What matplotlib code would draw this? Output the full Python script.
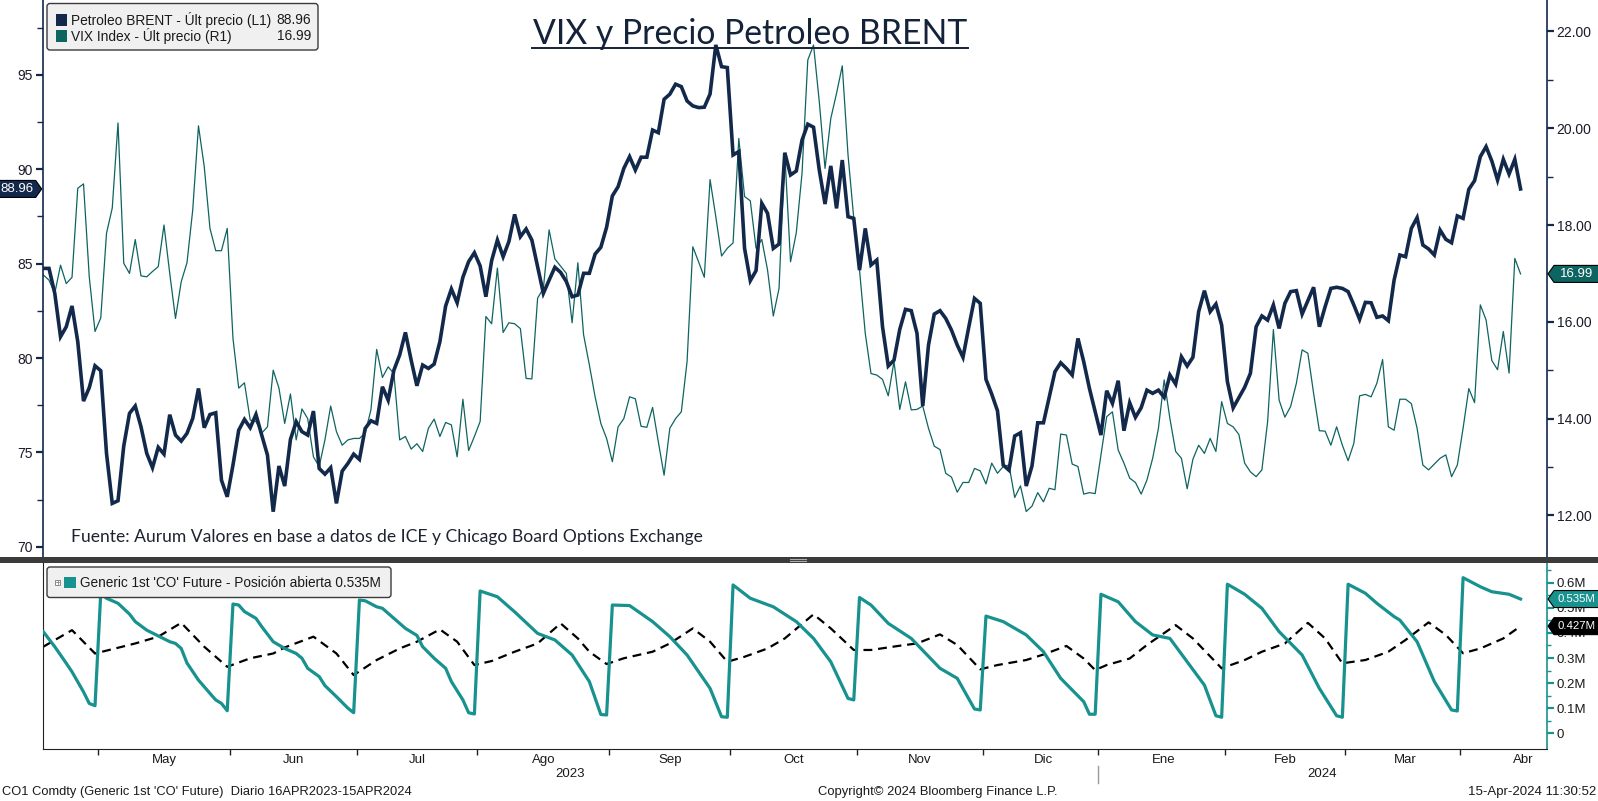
import numpy as np
import pandas as pd
import matplotlib
matplotlib.use("Agg")
import matplotlib.pyplot as plt
from matplotlib.patches import Polygon, FancyBboxPatch, Rectangle
from matplotlib.transforms import IdentityTransform
from matplotlib.lines import Line2D
from matplotlib.ticker import FixedLocator, FuncFormatter

# ---------------- data ----------------
inicio, fin = "2023-04-17", "2024-04-15"
feriados = ["2023-12-25", "2024-01-01", "2024-03-29"]

brent = [
    84.75, 84.75, 83.43, 81.13, 81.66, 82.76, 80.87, 77.72, 78.43, 79.59,
    79.33, 74.95, 72.30, 72.44, 75.34, 77.07, 77.46, 76.36, 74.95, 74.19,
    75.27, 74.91, 77.00, 75.92, 75.60, 76.01, 76.80, 78.39, 76.31, 77.01,
    77.10, 73.53, 72.65, 74.33, 76.18, 76.75, 76.31, 77.01, 75.92, 74.86,
    71.86, 74.28, 73.22, 75.69, 76.63, 76.10, 75.92, 77.19, 74.15, 73.85,
    74.19, 72.30, 74.01, 74.42, 74.91, 74.63, 76.27, 76.68, 76.54, 78.48,
    77.77, 79.36, 80.16, 81.36, 79.89, 78.53, 79.63, 79.45, 79.68, 80.87,
    82.76, 83.66, 82.93, 84.28, 85.11, 85.58, 84.88, 83.25, 85.16, 86.25,
    85.37, 86.17, 87.61, 86.43, 86.84, 86.25, 84.84, 83.43, 84.13, 84.81,
    84.54, 84.05, 83.25, 83.34, 84.49, 84.49, 85.51, 85.87, 86.93, 88.59,
    89.08, 90.05, 90.67, 89.96, 90.64, 90.64, 92.08, 91.94, 93.71, 93.98,
    94.51, 94.38, 93.62, 93.36, 93.27, 93.29, 93.99, 96.59, 95.44, 95.39,
    90.76, 90.94, 85.81, 84.10, 84.63, 88.20, 87.67, 85.81, 86.04, 90.88,
    89.70, 89.91, 91.55, 92.39, 92.23, 89.96, 88.16, 90.18, 87.93, 90.49,
    87.49, 87.40, 84.66, 86.87, 84.93, 85.19, 81.66, 79.58, 79.89, 81.52,
    82.58, 82.51, 81.31, 77.46, 80.69, 82.33, 82.51, 82.10, 81.48, 80.69,
    80.04, 81.63, 83.16, 82.90, 78.87, 78.09, 77.21, 74.33, 74.06, 75.87,
    76.04, 73.22, 74.28, 76.57, 76.57, 77.92, 79.28, 79.75, 79.45, 79.10,
    81.04, 79.81, 78.39, 77.16, 75.92, 78.27, 77.60, 78.80, 76.15, 77.63,
    76.86, 77.37, 78.30, 78.13, 78.30, 77.92, 79.10, 78.62, 80.07, 79.58,
    80.04, 82.46, 83.57, 82.46, 82.86, 81.75, 78.75, 77.36, 77.90, 78.45,
    79.19, 81.66, 82.23, 82.01, 82.81, 81.57, 82.90, 83.52, 83.57, 82.33,
    83.04, 83.75, 81.66, 82.72, 83.69, 83.75, 83.69, 83.52, 82.81, 82.05,
    82.95, 82.93, 82.16, 82.23, 81.98, 84.13, 85.46, 85.37, 86.87, 87.44,
    85.99, 85.78, 85.46, 86.78, 86.29, 86.11, 87.53, 87.40, 88.94, 89.40,
    90.67, 91.20, 90.44, 89.43, 90.53, 89.75, 90.53, 88.96]

vix = [
    16.97, 16.86, 16.59, 17.17, 16.79, 16.92, 18.76, 18.85, 16.93, 15.80,
    16.08, 17.83, 18.35, 20.11, 17.21, 17.00, 17.70, 16.95, 16.93, 17.04,
    17.14, 18.00, 17.00, 16.07, 16.83, 17.22, 18.31, 20.05, 19.21, 17.93,
    17.47, 17.47, 17.93, 15.66, 14.63, 14.74, 13.97, 13.94, 13.70, 13.83,
    15.00, 14.63, 13.90, 14.51, 13.56, 14.20, 14.00, 13.21, 13.01, 13.56,
    14.26, 13.73, 13.45, 13.56, 13.59, 13.59, 13.70, 14.18, 15.43, 14.85,
    15.07, 14.93, 13.56, 13.63, 13.37, 13.48, 13.32, 13.80, 13.99, 13.63,
    13.92, 13.87, 13.21, 14.40, 13.34, 13.63, 13.94, 16.11, 15.96, 17.11,
    15.78, 15.98, 15.96, 15.86, 14.83, 14.82, 16.49, 16.69, 17.90, 17.30,
    17.15, 17.00, 15.98, 17.22, 15.73, 15.11, 14.45, 13.90, 13.59, 13.11,
    13.83, 14.00, 14.45, 14.41, 13.84, 13.82, 14.23, 13.52, 12.83, 13.80,
    14.00, 14.14, 15.18, 17.55, 17.24, 16.92, 18.94, 18.17, 17.36, 17.52,
    17.63, 19.79, 18.59, 18.50, 17.52, 17.70, 17.07, 16.12, 16.69, 19.48,
    17.24, 17.84, 19.07, 21.41, 21.72, 20.55, 19.17, 20.20, 20.72, 21.29,
    19.45, 18.14, 17.07, 15.76, 14.93, 14.90, 14.81, 14.47, 15.18, 14.19,
    14.76, 14.18, 14.19, 14.26, 13.80, 13.43, 13.36, 12.87, 12.79, 12.48,
    12.68, 12.68, 12.97, 12.92, 12.65, 13.08, 12.87, 13.01, 13.04, 12.37,
    12.61, 12.08, 12.19, 12.47, 12.28, 12.56, 12.53, 13.68, 13.66, 13.06,
    13.01, 12.44, 12.47, 12.45, 13.25, 14.04, 14.14, 13.35, 13.08, 12.77,
    12.68, 12.44, 12.73, 13.18, 13.80, 14.80, 14.00, 13.32, 13.18, 12.55,
    13.16, 13.45, 13.28, 13.59, 13.32, 14.35, 13.90, 13.83, 13.67, 13.08,
    12.90, 12.80, 12.94, 13.94, 15.84, 14.38, 14.03, 14.25, 14.73, 15.42,
    15.35, 14.52, 13.75, 13.74, 13.45, 13.83, 13.45, 13.13, 13.49, 14.47,
    14.50, 14.45, 14.73, 15.22, 13.83, 13.76, 14.40, 14.40, 14.31, 13.80,
    13.04, 12.94, 13.06, 13.18, 13.25, 12.80, 13.04, 13.80, 14.62, 14.33,
    16.35, 16.04, 15.20, 15.01, 15.80, 14.94, 17.31, 16.99]

# open interest, generic 1st 'CO' future (million contracts), at session numbers
oi_sesion = [0, 2, 4, 5, 7, 8, 9,
             10, 11, 13, 15, 16, 18, 20, 22, 23, 24, 25, 27, 29, 30, 31, 32,
             33, 34, 35, 37, 38, 40, 42, 44, 45, 46, 48, 49, 51, 53, 54,
             55, 56, 58, 59, 61, 63, 65, 66, 68, 70, 71, 73, 74, 75,
             76, 79, 82, 86, 89, 92, 95, 97, 98,
             99, 102, 106, 109, 112, 116, 118, 119,
             120, 123, 127, 131, 134, 137, 140, 141,
             142, 144, 147, 151, 156, 159, 162, 163,
             164, 167, 171, 174, 177, 181, 182, 183,
             184, 187, 190, 193, 196, 199, 202, 204, 205,
             206, 209, 212, 215, 219, 222, 225, 226,
             227, 230, 232, 235, 236, 239, 242, 245, 246,
             247, 250, 252, 255, 257]
oi_valor = [0.405, 0.345, 0.279, 0.245, 0.165, 0.119, 0.110,
            0.558, 0.538, 0.518, 0.475, 0.445, 0.411, 0.388, 0.365, 0.358, 0.338, 0.280, 0.212, 0.159, 0.133, 0.119, 0.090,
            0.515, 0.511, 0.485, 0.458, 0.425, 0.365, 0.338, 0.318, 0.299, 0.259, 0.226, 0.190, 0.146, 0.100, 0.082,
            0.531, 0.528, 0.504, 0.498, 0.458, 0.418, 0.390, 0.345, 0.299, 0.259, 0.206, 0.133, 0.082, 0.077,
            0.567, 0.544, 0.484, 0.398, 0.372, 0.312, 0.206, 0.075, 0.073,
            0.511, 0.509, 0.445, 0.385, 0.312, 0.179, 0.066, 0.064,
            0.591, 0.538, 0.504, 0.445, 0.378, 0.285, 0.139, 0.133,
            0.541, 0.511, 0.438, 0.378, 0.259, 0.219, 0.097, 0.093,
            0.467, 0.445, 0.392, 0.325, 0.219, 0.126, 0.076, 0.076,
            0.554, 0.524, 0.445, 0.392, 0.378, 0.285, 0.192, 0.070, 0.064,
            0.594, 0.554, 0.498, 0.405, 0.312, 0.179, 0.070, 0.064,
            0.594, 0.558, 0.518, 0.465, 0.451, 0.365, 0.206, 0.093, 0.089,
            0.620, 0.584, 0.564, 0.554, 0.535]

# second (dashed) series, million contracts
oi2_sesion = [0, 5, 9, 16, 20, 24, 28, 32, 36, 40, 42, 47, 51, 54, 58, 62, 65, 69, 72, 75,
              78, 82, 86, 90, 93, 95, 98, 101, 106, 109, 113, 116, 119, 122, 126, 129, 134,
              137, 141, 144, 149, 152, 156, 159, 163, 166, 171, 174, 178, 181, 183, 185, 189,
              192, 197, 200, 205, 209, 212, 216, 220, 223, 226, 230, 234, 237, 241, 244, 247,
              250, 254, 257]
oi2_valor = [0.345, 0.411, 0.318, 0.358, 0.385, 0.440, 0.345, 0.265, 0.299, 0.318, 0.342,
             0.385, 0.318, 0.232, 0.292, 0.338, 0.365, 0.414, 0.365, 0.272, 0.288, 0.325,
             0.358, 0.438, 0.378, 0.325, 0.276, 0.299, 0.325, 0.358, 0.418, 0.365, 0.285,
             0.305, 0.338, 0.378, 0.474, 0.418, 0.332, 0.332, 0.349, 0.358, 0.394, 0.352,
             0.255, 0.272, 0.292, 0.314, 0.348, 0.298, 0.252, 0.272, 0.298, 0.352, 0.431,
             0.378, 0.259, 0.292, 0.325, 0.358, 0.440, 0.378, 0.279, 0.292, 0.325, 0.372,
             0.442, 0.392, 0.319, 0.338, 0.378, 0.427]

meses = ["May", "Jun", "Jul", "Ago", "Sep", "Oct", "Nov", "Dic", "Ene", "Feb", "Mar", "Abr"]
anios = ["2023", "2024"]
brent_ticks = [70, 75, 80, 85, 90, 95]
vix_ticks = [12, 14, 16, 18, 20, 22]
oi_ticks = [0, 0.1, 0.2, 0.3, 0.4, 0.5, 0.6]

titulo = "VIX y Precio Petroleo BRENT"
fuente = "Fuente: Aurum Valores en base a datos de ICE y Chicago Board Options Exchange"
leg_brent = ("Petroleo BRENT - Últ precio (L1)", "88.96")
leg_vix = ("VIX Index - Últ precio (R1)", "16.99")
leg_oi = "Generic 1st 'CO' Future - Posición abierta 0.535M"
pie_izq = "CO1 Comdty (Generic 1st 'CO' Future)  Diario 16APR2023-15APR2024"
pie_centro = "Copyright\u00a9 2024 Bloomberg Finance L.P."
pie_der = "15-Apr-2024 11:30:52"

# ---------------- style ----------------
W, H = 1598, 801
NAVY = "#13294b"
TEALV = "#0e6461"
TEAL = "#17928f"
FONT = ["Liberation Sans", "DejaVu Sans"]
TFONT = ["Lato", "DejaVu Sans"]

plt.rcParams["font.family"] = FONT

fechas = pd.bdate_range(inicio, fin)
fechas = fechas[~fechas.isin(pd.to_datetime(feriados))]
x = np.arange(len(fechas))
cortes = [i for i in range(1, len(fechas)) if fechas[i].month != fechas[i - 1].month]
corte_anio = [i for i in range(1, len(fechas)) if fechas[i].year != fechas[i - 1].year][0]

fig = plt.figure(figsize=(W / 100, H / 100), dpi=100)
fig.patch.set_facecolor("white")
ID = IdentityTransform()


def fx(px):
    return px / W


def fy(py):
    return 1 - py / H


XL, XR = 42.7, 1547
ax_v = fig.add_axes([fx(XL), fy(557), fx(XR) - fx(XL), 557 / H])
ax_b = ax_v.twinx()
ax_o = fig.add_axes([fx(XL), fy(749), fx(XR) - fx(XL), (749 - 562) / H])

xlim = (-0.1, 261.6)
for a in (ax_v, ax_b, ax_o):
    a.set_xlim(*xlim)
    a.set_facecolor("none")

# VIX (right scale) and Brent (left scale)
ax_v.plot(x, vix, color=TEALV, lw=0.9, zorder=2)
ax_v.set_ylim(11.14, 22.65)
ax_b.plot(x, brent, color=NAVY, lw=2.6, zorder=3, solid_joinstyle="miter")
ax_b.set_ylim(69.46, 98.97)

ax_v.yaxis.tick_right()
ax_v.yaxis.set_label_position("right")
ax_b.yaxis.tick_left()
ax_b.yaxis.set_label_position("left")

ax_v.yaxis.set_major_locator(FixedLocator(vix_ticks))
ax_v.yaxis.set_minor_locator(FixedLocator([v + 1 for v in vix_ticks[:-1]]))
ax_v.yaxis.set_major_formatter(FuncFormatter(lambda v, p: f"{v:.2f}"))
ax_b.yaxis.set_major_locator(FixedLocator(brent_ticks))
ax_b.yaxis.set_minor_locator(FixedLocator([v + 2.5 for v in brent_ticks]))
ax_b.yaxis.set_major_formatter(FuncFormatter(lambda v, p: f"{v:.0f}"))

for a in (ax_v, ax_b):
    a.tick_params(axis="y", which="major", length=5, width=1.6, color=NAVY, labelsize=10,
                  labelcolor="#1a1a2a", pad=2)
    a.tick_params(axis="y", which="minor", length=4, width=1.0, color=NAVY)
    a.set_xticks([])
    for s in a.spines.values():
        s.set_visible(False)
ax_v.spines["right"].set_visible(True)
ax_v.spines["right"].set_color(NAVY)
ax_v.spines["right"].set_linewidth(1.2)
ax_v.spines["left"].set_visible(True)
ax_v.spines["left"].set_color(NAVY)
ax_v.spines["left"].set_linewidth(1.2)

# lower panel
ax_o.plot(oi2_sesion, oi2_valor, color="black", lw=1.6, dashes=(4, 2.6), zorder=2)
ax_o.plot(oi_sesion, oi_valor, color=TEAL, lw=2.3, zorder=3)
ax_o.set_ylim(-0.0625, 0.6825)
ax_o.yaxis.tick_right()
ax_o.yaxis.set_major_locator(FixedLocator(oi_ticks))
ax_o.yaxis.set_minor_locator(FixedLocator([v + 0.05 for v in oi_ticks]))
ax_o.yaxis.set_major_formatter(FuncFormatter(lambda v, p: "0" if abs(v) < 1e-9 else f"{v:.1f}M"))
ax_o.tick_params(axis="y", which="major", length=5, width=1.6, color=TEAL, labelsize=9.5,
                 labelcolor="#1a1a1a", pad=2)
ax_o.tick_params(axis="y", which="minor", length=3, width=1.0, color=TEAL)
ax_o.spines["top"].set_visible(False)
ax_o.spines["right"].set_color(TEAL)
ax_o.spines["right"].set_linewidth(1.2)
ax_o.spines["left"].set_color("#222222")
ax_o.spines["bottom"].set_color("#222222")

ticks_mes = [c - 0.5 for c in cortes]
ax_o.xaxis.set_major_locator(FixedLocator(ticks_mes))
ax_o.xaxis.set_major_formatter(FuncFormatter(lambda v, p: ""))
ax_o.tick_params(axis="x", which="major", length=4, width=1.0, color="#222222")

for i, c in enumerate(cortes):
    mes_ini = fechas[c]
    n_dias = len(pd.bdate_range(mes_ini.to_period("M").start_time, mes_ini.to_period("M").end_time))
    ax_o.text(c - 0.5 + n_dias / 2, -0.058, meses[i], transform=ax_o.get_xaxis_transform(),
              ha="center", va="center", fontsize=9.5, color="#1a1a1a", clip_on=False)

# year labels + separator
ya = corte_anio - 0.5
for lab, pos in zip(anios, [(xlim[0] + ya) / 2, (ya + xlim[1]) / 2]):
    ax_o.text(pos, -0.135, lab, transform=ax_o.get_xaxis_transform(), ha="center", va="center",
              fontsize=9.5, color="#1a1a1a", clip_on=False)
xs = ax_o.transData.transform((ya, 0))[0]
fig.add_artist(Line2D([xs, xs], [H - 766, H - 783], transform=ID, color="#9a9a9a", lw=1))

# divider between panels
fig.add_artist(Rectangle((0, H - 562.5), W, 5.5, transform=ID, fc="#3b3b3b", ec="none"))
fig.add_artist(Line2D([790, 806], [H - 558.8, H - 558.8], transform=ID, color="#aaaaaa", lw=0.8))
fig.add_artist(Line2D([790, 806], [H - 561, H - 561], transform=ID, color="#aaaaaa", lw=0.8))

# ---------------- title / source ----------------
fig.text(750, H - 43.5, titulo, transform=ID, ha="center", va="baseline", fontsize=24.3,
         family=TFONT, color="#14233a")
fig.add_artist(Line2D([532, 968], [H - 47.5, H - 47.5], transform=ID, color="#14233a", lw=1.4))
fig.text(71, H - 537, fuente, transform=ID, ha="left", va="center", fontsize=12.6,
         family=TFONT, color="#1d2330")

# ---------------- legends ----------------
fig.add_artist(FancyBboxPatch((47, H - 50), 271, 46.5, boxstyle="round,pad=0,rounding_size=3",
                              transform=ID, fc="#f0f0f0", ec="#3a3a3a", lw=1.0))
for (txt, val), yc, col in [(leg_brent, 19.5, NAVY), (leg_vix, 35.5, TEALV)]:
    fig.add_artist(Rectangle((55.5, H - yc - 6), 11.5, 12, transform=ID, fc=col, ec="none"))
    fig.text(71, H - yc, txt, transform=ID, ha="left", va="center", fontsize=9.9, color="#1a1a1a")
    fig.text(311, H - yc, val, transform=ID, ha="right", va="center", fontsize=9.9, color="#1a1a1a")

fig.add_artist(FancyBboxPatch((47, H - 597.5), 344, 30.5, boxstyle="round,pad=0,rounding_size=3",
                              transform=ID, fc="#f0f0f0", ec="#3a3a3a", lw=1.0))
fig.add_artist(Rectangle((55, H - 584.5), 5, 5, transform=ID, fc="white", ec="#888888", lw=0.7))
fig.add_artist(Line2D([56, 59], [H - 582, H - 582], transform=ID, color="#888888", lw=0.6))
fig.add_artist(Line2D([57.5, 57.5], [H - 580.5, H - 583.5], transform=ID, color="#888888", lw=0.6))
fig.add_artist(Rectangle((64, H - 588), 12, 11.5, transform=ID, fc=TEAL, ec="none"))
fig.text(80, H - 583, leg_oi, transform=ID, ha="left", va="center", fontsize=9.8,
         color="#1a1a1a")

# ---------------- value tags ----------------
def etiqueta(ax, valor, texto, lado, fondo, ancho, alto=17, punta=6, fs=9.5, borde="black"):
    y = ax.transData.transform((0, valor))[1]
    if lado == "der":
        x0 = ax.transAxes.transform((1, 0))[0] + 1
        pts = [(x0, y), (x0 + punta, y + alto / 2), (x0 + ancho, y + alto / 2),
               (x0 + ancho, y - alto / 2), (x0 + punta, y - alto / 2)]
        tx = x0 + punta + (ancho - punta) / 2
    else:
        x0 = ax.transAxes.transform((0, 0))[0] - 1
        pts = [(x0, y), (x0 - punta, y + alto / 2), (x0 - ancho, y + alto / 2),
               (x0 - ancho, y - alto / 2), (x0 - punta, y - alto / 2)]
        tx = x0 - punta - (ancho - punta) / 2
    fig.add_artist(Polygon(pts, closed=True, transform=ID, fc=fondo, ec=borde, lw=0.8, zorder=5))
    fig.text(tx, y, texto, transform=ID, ha="center", va="center", color="white",
             fontsize=fs, zorder=6)


etiqueta(ax_b, brent[-1], f"{brent[-1]:.2f}", "izq", NAVY, 43)
etiqueta(ax_v, vix[-1], f"{vix[-1]:.2f}", "der", TEALV, 51)
etiqueta(ax_o, oi_valor[-1], f"{oi_valor[-1]:.3f}M", "der", TEAL, 51, fs=8.2)
etiqueta(ax_o, oi2_valor[-1], f"{oi2_valor[-1]:.3f}M", "der", "black", 51, fs=8.2)

# ---------------- footer ----------------
fig.text(2, H - 792, pie_izq, transform=ID, ha="left", va="center", fontsize=9.3,
         color="#1a1a1a")
fig.text(938, H - 792, pie_centro, transform=ID, ha="center", va="center", fontsize=9.4,
         color="#1a1a1a")
fig.text(1596, H - 792, pie_der, transform=ID, ha="right", va="center", fontsize=9.5,
         color="#1a1a1a")

fig.savefig("out.png", dpi=100, facecolor="white")
